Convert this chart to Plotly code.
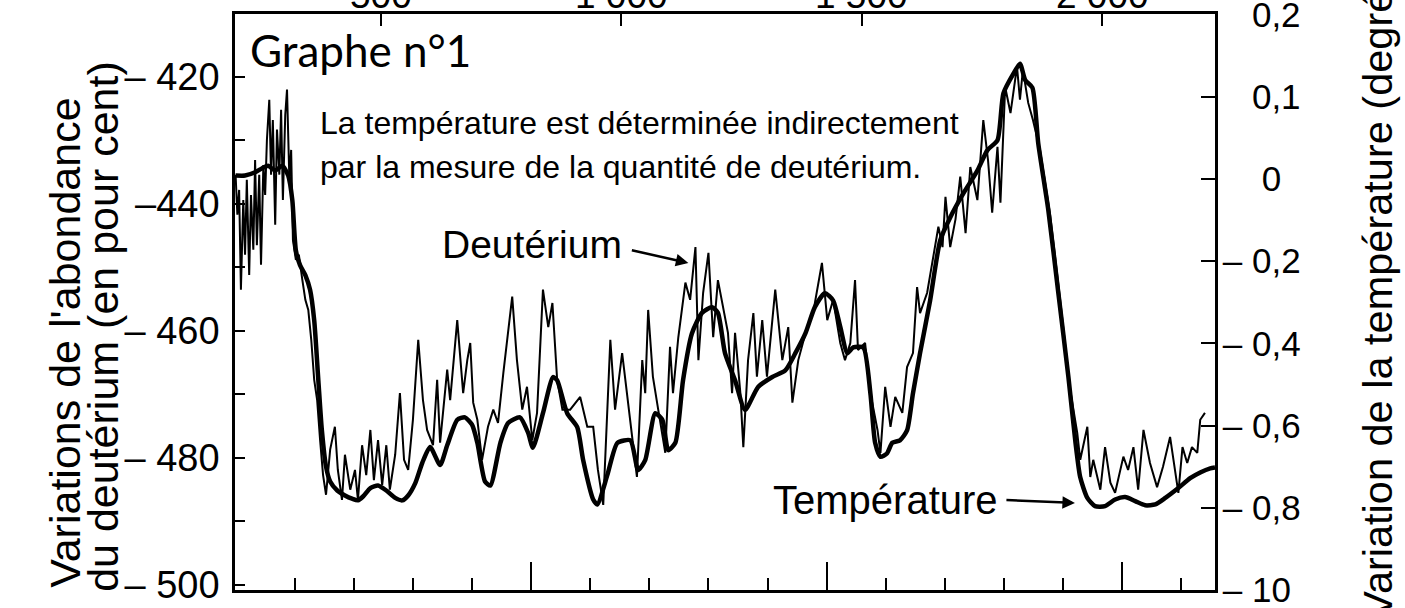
import plotly.graph_objects as go

# ---- data (age in thousands of years) ----
deut_age = [0, 0.3, 0.6, 0.9, 1.3, 1.6, 1.9, 2.3, 2.6, 3.0, 3.3, 3.6, 4.0, 4.3, 4.7, 5.0, 5.3, 5.7, 6.0, 6.3,
            6.7, 7.0, 7.4, 7.7, 8.0, 8.4, 8.7, 9.1, 9.4, 9.7, 10.2, 10.7, 11.3, 11.8, 12.3, 12.8, 13.3, 13.8, 14.3, 14.8,
            15.3, 16.0, 16.8, 17.3, 18.0, 18.5, 19.4, 20.2, 20.7, 21.4, 22.1, 22.8, 23.4, 24.1, 24.8, 25.5, 26.1, 27.0, 27.8, 28.5,
            29.2, 30.0, 30.9, 31.7, 32.4, 33.4, 34.1, 34.6, 35.8, 36.3, 37.5, 38.5, 39.2, 39.7, 40.2, 40.9, 41.7, 42.7, 43.6, 44.4,
            45.3, 46.8, 47.6, 48.5, 49.3, 50.2, 51.0, 52.0, 52.9, 53.6, 54.4, 55.3, 56.6, 58.3, 59.5, 60.5, 61.3, 62.2, 63.4, 64.2,
            65.4, 66.2, 67.1, 67.9, 68.8, 69.3, 69.8, 70.6, 71.5, 72.7, 73.5, 74.0, 74.9, 76.1, 76.9, 77.8, 78.3, 79.1, 80.0, 80.8,
            81.6, 82.5, 83.3, 84.0, 84.5, 85.4, 85.9, 86.7, 87.6, 88.2, 89.1, 89.9, 91.3, 92.5, 93.5, 94.2, 95.2, 96.7, 97.7, 99.2,
            100.1, 101.1, 102.3, 103.1, 104.0, 104.8, 105.3, 106.5, 107.4, 108.6, 109.1, 109.9, 110.8, 111.6, 112.8, 113.6, 114.6, 115.3, 115.8, 117.0,
            118.0, 118.9, 119.6, 120.1, 120.9, 121.8, 122.6, 123.5, 124.3, 125.5, 126.5, 127.3, 128.0, 128.9, 129.4, 130.2, 131.1, 132.2, 132.7, 133.2,
            134.1, 134.9, 136.1, 137.8, 139.5, 141.2, 142.4, 142.9, 144.1, 144.6, 145.1, 146.3, 147.1, 148.0, 148.8, 150.2, 151.0, 151.9, 152.7, 153.6,
            154.7, 155.9, 156.9, 158.1, 159.5, 160.2, 161.0, 161.8, 162.7, 163.2, 164.0]
deut_val = [-435.4, -441.7, -437.8, -453.5, -439.4, -448.0, -436.2, -451.2, -438.6, -447.2, -433.1, -446.5, -435.4, -449.6, -433.9, -438.6, -429.9, -423.6, -435.4, -426.8,
            -443.3, -428.3, -435.4, -425.2, -439.4, -426.0, -422.0, -436.2, -431.5, -445.7, -448.8, -448.0, -452.0, -455.1, -456.7, -461.4, -467.7, -470.9, -477.2, -482.7,
            -485.8, -478.7, -475.1, -481.9, -486.6, -479.5, -485.0, -481.9, -486.6, -478.0, -482.7, -475.6, -483.5, -477.2, -484.3, -478.0, -485.0, -479.5, -469.8, -480.3,
            -481.9, -474.0, -461.4, -470.9, -475.6, -478.0, -467.7, -477.6, -466.1, -470.9, -458.3, -469.8, -464.6, -461.9, -471.3, -474.0, -480.3, -475.1, -472.4, -474.5,
            -466.6, -454.6, -464.6, -472.4, -468.8, -477.2, -472.9, -453.5, -459.4, -455.6, -467.7, -472.4, -472.4, -470.4, -475.1, -475.1, -481.9, -487.4, -461.4, -472.4,
            -463.5, -469.8, -477.6, -483.0, -464.6, -469.8, -456.7, -467.2, -472.4, -479.2, -462.5, -469.8, -461.0, -452.4, -455.1, -446.8, -464.6, -454.0, -447.7, -461.0,
            -452.0, -456.7, -460.3, -469.8, -460.3, -469.8, -478.3, -464.6, -457.2, -467.2, -458.3, -467.2, -453.5, -464.6, -459.4, -471.3, -464.6, -459.4, -457.2, -449.3,
            -458.3, -455.1, -461.9, -464.6, -461.9, -452.0, -463.0, -461.9, -469.8, -475.6, -479.2, -468.8, -475.1, -470.4, -472.9, -465.7, -463.5, -453.1, -457.2, -454.0,
            -448.8, -443.6, -446.8, -438.9, -446.8, -442.4, -435.7, -444.6, -434.2, -439.4, -426.8, -433.1, -441.4, -431.0, -439.8, -421.6, -425.7, -418.4, -423.6, -418.9,
            -424.1, -426.8, -431.5, -441.7, -455.1, -469.3, -476.1, -480.3, -475.1, -483.0, -480.3, -485.0, -478.3, -483.9, -485.5, -479.8, -481.9, -478.3, -485.0, -475.6,
            -480.8, -484.6, -481.4, -476.7, -485.5, -478.3, -480.8, -478.3, -479.2, -474.0, -472.9]

temp_age = [0, 1.6, 3.3, 4.5, 5.5, 6.7, 7.9, 8.9, 9.6, 10.2, 10.9, 11.8, 12.6, 13.3, 14.0, 14.6, 15.3, 16.0, 17.2, 18.5,
            19.7, 20.7, 21.6, 22.8, 24.1, 25.5, 27.0, 28.2, 29.2, 30.4, 31.6, 32.9, 34.6, 35.8, 37.5, 38.8, 40.0, 40.9, 42.2, 43.1,
            44.8, 46.1, 48.1, 49.5, 50.3, 52.0, 53.7, 54.4, 56.1, 57.8, 58.8, 60.5, 61.2, 62.9, 64.6, 66.8, 68.1, 69.3, 71.0, 72.2,
            73.2, 74.4, 75.7, 77.2, 78.9, 80.6, 81.6, 82.8, 84.5, 86.2, 88.4, 90.8, 93.0, 94.7, 96.4, 98.0, 99.7, 101.1, 102.3, 103.5,
            104.5, 106.2, 107.4, 108.2, 109.1, 110.2, 111.1, 112.4, 113.6, 114.6, 115.8, 117.5, 119.2, 120.9, 123.1, 125.5, 127.2, 128.9, 129.9, 131.6,
            132.7, 133.6, 134.8, 135.8, 137.5, 139.2, 140.9, 142.1, 142.9, 144.1, 145.4, 147.1, 148.8, 150.5, 152.2, 153.9, 155.6, 157.3, 159.5, 161.5,
            163.2, 164.9, 165.7]
temp_val = [0.004, 0.004, 0.008, 0.013, 0.016, 0.010, 0.016, 0.004, -0.026, -0.087, -0.105, -0.117, -0.135, -0.172, -0.245, -0.306, -0.350, -0.368, -0.379, -0.385,
            -0.389, -0.391, -0.386, -0.376, -0.373, -0.379, -0.388, -0.391, -0.385, -0.370, -0.345, -0.326, -0.348, -0.324, -0.293, -0.290, -0.299, -0.321, -0.368, -0.373,
            -0.321, -0.297, -0.290, -0.309, -0.327, -0.285, -0.241, -0.245, -0.285, -0.302, -0.342, -0.390, -0.396, -0.360, -0.321, -0.318, -0.354, -0.342, -0.285, -0.293,
            -0.330, -0.321, -0.245, -0.188, -0.163, -0.156, -0.163, -0.212, -0.245, -0.281, -0.253, -0.241, -0.233, -0.212, -0.188, -0.156, -0.139, -0.148, -0.180, -0.212,
            -0.205, -0.205, -0.261, -0.321, -0.338, -0.334, -0.321, -0.318, -0.306, -0.261, -0.212, -0.148, -0.075, -0.047, -0.018, 0.010, 0.035, 0.047, 0.104, 0.128,
            0.140, 0.120, 0.111, 0.043, -0.038, -0.139, -0.241, -0.321, -0.363, -0.388, -0.398, -0.398, -0.390, -0.387, -0.392, -0.397, -0.396, -0.388, -0.376, -0.364,
            -0.357, -0.352, -0.351]

left_tickvals = [-420, -440, -460, -480, -500]
left_ticktext = ["\u2013 420", "\u2013440", "\u2013 460", "\u2013 480", "\u2013 500"]
right_tickvals = [0.2, 0.1, 0, -0.1, -0.2, -0.3, -0.4, -0.5]
right_ticktext = ["\u00a0\u00a0\u00a00,2", "\u00a0\u00a0\u00a00,1", "\u00a0\u00a0\u00a0\u00a00", "\u2013 0,2", "\u2013 0,4",
                  "\u2013 0,6", "\u2013 0,8", "\u2013 10"]
top_tickvals = [500, 1000, 1500, 2000]
top_ticktext = ["500", "1 000", "1 500", "2 000"]

FONT = "Liberation Sans, Arial, sans-serif"

fig = go.Figure()
fig.add_trace(go.Scatter(x=deut_age, y=deut_val, mode="lines", name="Deutérium",
                         line=dict(color="black", width=2), xaxis="x", yaxis="y"))
fig.add_trace(go.Scatter(x=temp_age, y=temp_val, mode="lines", name="Température",
                         line=dict(color="black", width=4.5, shape="spline", smoothing=0.6),
                         xaxis="x", yaxis="y2"))
# invisible trace so that the top (depth) axis is drawn
fig.add_trace(go.Scatter(x=top_tickvals, y=[-500.0] * len(top_tickvals), mode="markers",
                         marker=dict(opacity=0), hoverinfo="skip", xaxis="x2", yaxis="y"))

fig.update_layout(
    width=1405, height=608,
    margin=dict(l=235, r=190, t=14, b=18),
    paper_bgcolor="white", plot_bgcolor="white",
    showlegend=False,
    font=dict(family=FONT, color="black", size=38),
    xaxis=dict(range=[-0.1, 165.7], showgrid=False, zeroline=False, showline=True, linecolor="black", linewidth=2.5,
               mirror=True,
               tickvals=[0, 50, 100, 150], ticks="inside", ticklen=28, tickwidth=2, tickcolor="black",
               showticklabels=False,
               minor=dict(dtick=10, tick0=0, ticks="inside", ticklen=12, tickwidth=2, tickcolor="black")),
    xaxis2=dict(range=[196.3, 2235], overlaying="x", side="top", anchor="y", showgrid=False, zeroline=False,
                showline=True, linecolor="black", linewidth=2.5,
                tickvals=top_tickvals, ticks="inside", ticklen=12, tickwidth=2,
                tickcolor="black", showticklabels=False, automargin=False),
    yaxis=dict(range=[-500.8, -410.1], showgrid=False, zeroline=False, showline=True, linecolor="black", linewidth=2.5,
               tickvals=left_tickvals, ticktext=left_ticktext, ticks="inside", ticklen=10, tickwidth=2,
               tickcolor="black", tickfont=dict(size=38, family=FONT), ticklabelstandoff=5, automargin=False,
               ticklabeloverflow="allow",
               minor=dict(tickvals=[-430, -450, -470, -490], ticks="inside", ticklen=10, tickwidth=2, tickcolor="black")),
    yaxis2=dict(range=[-0.5, 0.2005], overlaying="y", side="right", showgrid=False, zeroline=False,
                showline=True, linecolor="black", linewidth=2.5,
                tickvals=right_tickvals, ticktext=right_ticktext, ticks="inside", ticklen=14, tickwidth=2,
                tickcolor="black", tickfont=dict(size=35, family=FONT), ticklabelstandoff=-2, automargin=False,
                ticklabeloverflow="allow"),
)

annotations = [
    dict(text="Variations de l'abondance", xref="paper", yref="paper", x=-0.173, y=0.43, textangle=-90,
         showarrow=False, font=dict(size=43, family=FONT), xanchor="center", yanchor="middle"),
    dict(text="du deutérium (en pour cent)", xref="paper", yref="paper", x=-0.134, y=0.458, textangle=-90,
         showarrow=False, font=dict(size=43, family=FONT), xanchor="center", yanchor="middle"),
    dict(text="Variation de la température (degrés)", xref="paper", yref="paper", x=1.165, y=0.526, textangle=-90,
         showarrow=False, font=dict(size=41.5, family=FONT), xanchor="center", yanchor="middle"),
    dict(text="Graphe n°1", xref="paper", yref="paper", x=0.013, y=0.9375, showarrow=False,
         font=dict(size=44, family="Lato, DejaVu Sans, sans-serif"), xanchor="left", yanchor="middle"),
    dict(text="La température est déterminée indirectement", xref="paper", yref="paper", x=0.085, y=0.81,
         showarrow=False, font=dict(size=32, family=FONT), xanchor="left", yanchor="middle"),
    dict(text="par la mesure de la quantité de deutérium.", xref="paper", yref="paper", x=0.085, y=0.734,
         showarrow=False, font=dict(size=32, family=FONT), xanchor="left", yanchor="middle"),
    dict(text="Deutérium", xref="paper", yref="paper", x=0.303, y=0.599, showarrow=False,
         font=dict(size=39, family=FONT), xanchor="center", yanchor="middle"),
    dict(text="Température", xref="paper", yref="paper", x=0.664, y=0.156, showarrow=False,
         font=dict(size=40, family=FONT), xanchor="center", yanchor="middle"),
    dict(text="", x=76.6, y=-449.3, xref="x", yref="y", showarrow=True, ax=-58, ay=-13,
         arrowhead=2, arrowsize=1, arrowwidth=2.5, arrowcolor="black"),
    dict(text="", x=142.0, y=-487.1, xref="x", yref="y", showarrow=True, ax=-70, ay=-3,
         arrowhead=2, arrowsize=1, arrowwidth=2.5, arrowcolor="black"),
]
# top depth labels, only partly visible at the upper edge as in the scan
for v, t in zip(top_tickvals, top_ticktext):
    annotations.append(dict(text=t, x=v, xref="x2", y=1, yref="paper", yshift=19, showarrow=False,
                            font=dict(size=37, family=FONT), xanchor="center", yanchor="middle"))
fig.update_layout(annotations=annotations)

fig.write_html("out.html", config={"displayModeBar": False},
               post_script="document.body.style.margin='0';document.body.style.padding='0';")
